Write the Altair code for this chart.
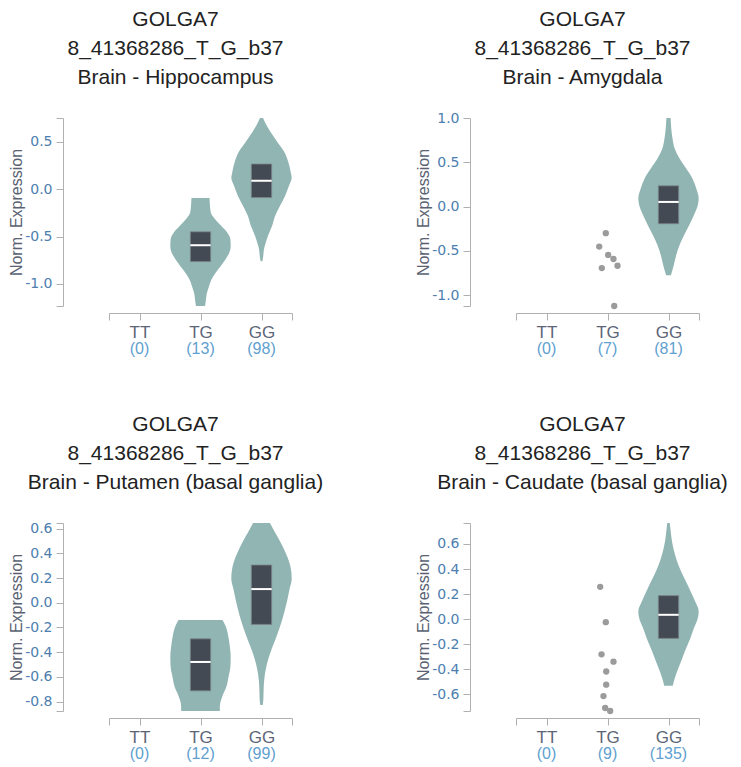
import altair as alt
import pandas as pd

FONT = "Liberation Sans"
TICK_FONT = "DejaVu Sans"
GENOTYPES = ["TT", "TG", "GG"]
GENE = "GOLGA7"
VARIANT = "8_41368286_T_G_b37"

# ---------------- Brain - Hippocampus ----------------
hip_tissue = "Brain - Hippocampus"
hip_counts = [0, 13, 98]
hip_tg_y = [-0.092, -0.160, -0.245, -0.319, -0.390, -0.461, -0.532, -0.603, -0.674,
            -0.745, -0.816, -0.887, -0.958, -1.028, -1.100, -1.170, -1.234]
hip_tg_w = [0.30, 0.31, 0.34, 0.49, 0.69, 0.89, 0.99, 1.00, 0.95,
            0.82, 0.66, 0.49, 0.36, 0.28, 0.21, 0.18, 0.15]
hip_gg_y = [0.752, 0.674, 0.603, 0.496, 0.390, 0.284, 0.177, 0.120, 0.035, -0.071,
            -0.177, -0.284, -0.390, -0.496, -0.567, -0.638, -0.700, -0.762]
hip_gg_w = [0.05, 0.17, 0.30, 0.53, 0.76, 0.89, 0.97, 1.00, 0.91, 0.78,
            0.61, 0.45, 0.35, 0.21, 0.14, 0.08, 0.06, 0.03]
hip_box_geno = ["TG", "GG"]
hip_box_q1 = [-0.765, -0.089]
hip_box_med = [-0.592, 0.089]
hip_box_q3 = [-0.450, 0.266]

# ---------------- Brain - Amygdala ----------------
amy_tissue = "Brain - Amygdala"
amy_counts = [0, 7, 81]
amy_gg_y = [1.000, 0.886, 0.773, 0.659, 0.545, 0.432, 0.318, 0.205, 0.091, 0.015,
            -0.098, -0.212, -0.326, -0.439, -0.553, -0.667, -0.773]
amy_gg_w = [0.07, 0.09, 0.13, 0.20, 0.36, 0.58, 0.79, 0.92, 1.00, 0.97,
            0.84, 0.68, 0.51, 0.36, 0.25, 0.17, 0.08]
amy_box_geno = ["GG"]
amy_box_q1 = [-0.193]
amy_box_med = [0.053]
amy_box_q3 = [0.235]
amy_tg_pts = [-0.299, -0.451, -0.545, -0.591, -0.667, -0.693, -1.121]
amy_tg_jit = [-0.028, -0.136, 0.011, 0.098, 0.164, -0.093, 0.110]

# ---------------- Brain - Putamen (basal ganglia) ----------------
put_tissue = "Brain - Putamen (basal ganglia)"
put_counts = [0, 12, 99]
put_tg_y = [-0.139, -0.188, -0.270, -0.351, -0.433, -0.515, -0.596, -0.678,
            -0.759, -0.841, -0.876]
put_tg_w = [0.73, 0.83, 0.92, 0.97, 1.00, 0.99, 0.93, 0.86, 0.72, 0.64, 0.64]
put_gg_y = [0.646, 0.573, 0.491, 0.410, 0.328, 0.247, 0.192, 0.111, 0.029, -0.052,
            -0.134, -0.216, -0.297, -0.379, -0.460, -0.541, -0.623, -0.705, -0.786, -0.827]
put_gg_w = [0.28, 0.44, 0.63, 0.79, 0.92, 0.99, 1.00, 0.93, 0.86, 0.78,
            0.69, 0.58, 0.46, 0.33, 0.22, 0.14, 0.09, 0.07, 0.06, 0.04]
put_box_geno = ["TG", "GG"]
put_box_q1 = [-0.713, -0.175]
put_box_med = [-0.479, 0.111]
put_box_q3 = [-0.292, 0.306]

# ---------------- Brain - Caudate (basal ganglia) ----------------
cau_tissue = "Brain - Caudate (basal ganglia)"
cau_counts = [0, 9, 135]
cau_gg_y = [0.767, 0.708, 0.627, 0.546, 0.465, 0.385, 0.304, 0.223, 0.143, 0.062,
            0.008, -0.073, -0.153, -0.234, -0.315, -0.396, -0.476, -0.530]
cau_gg_w = [0.04, 0.07, 0.11, 0.18, 0.28, 0.41, 0.57, 0.73, 0.88, 1.00,
            0.97, 0.84, 0.72, 0.58, 0.45, 0.32, 0.20, 0.14]
cau_box_geno = ["GG"]
cau_box_q1 = [-0.153]
cau_box_med = [0.035]
cau_box_q3 = [0.188]
cau_tg_pts = [0.258, -0.024, -0.280, -0.339, -0.417, -0.522, -0.613, -0.708, -0.732]
cau_tg_jit = [-0.120, -0.028, -0.098, 0.098, -0.021, -0.021, -0.066, -0.038, 0.044]

hip_ticks = [-1.0, -0.5, 0.0, 0.5]
amy_ticks = [-1.0, -0.5, 0.0, 0.5, 1.0]
put_ticks = [-0.8, -0.6, -0.4, -0.2, 0.0, 0.2, 0.4, 0.6]
cau_ticks = [-0.6, -0.4, -0.2, 0.0, 0.2, 0.4, 0.6]

VIOLIN_FILL = "#91b5b3"
BOX_FILL = "#434a53"
BOX_STROKE = "#7c878c"
POINT_COLOR = "#9b9b9b"
AXIS_COLOR = "#b0b0b0"
VIOLIN_HALF = 0.495
BOX_HALF = 0.167
W, H = 183, 188

POS = {g: i for i, g in enumerate(GENOTYPES)}
X_LABEL_EXPR = " : ".join(
    f"datum.value == {i} ? '{g}'" for i, g in enumerate(GENOTYPES)) + " : ''"
Y_LABEL_EXPR = ("abs(datum.value * 10 - round(datum.value * 10)) < 0.01 ? "
                "(datum.value < 0 ? '-' : '') + format(abs(datum.value), '.1f') : ''")


def panel(tissue, counts, violins, box_geno, box_q1, box_med, box_q3, ticks,
          pts=None, jit=None):
    vrows = []
    for g, ys, ws in violins:
        for y, w in zip(ys, ws):
            vrows.append({"geno": g, "pos": POS[g], "value": y, "w": w})
    vdf = pd.DataFrame(vrows)
    vdf["lo"] = vdf["pos"] - vdf["w"] * VIOLIN_HALF
    vdf["hi"] = vdf["pos"] + vdf["w"] * VIOLIN_HALF

    bdf = pd.DataFrame({"geno": box_geno, "q1": box_q1, "med": box_med, "q3": box_q3})
    bdf["pos"] = [POS[g] for g in box_geno]
    bdf["lo"] = bdf["pos"] - BOX_HALF
    bdf["hi"] = bdf["pos"] + BOX_HALF

    all_vals = list(vdf["value"])
    if pts:
        all_vals += list(pts)
    lo, hi = min(all_vals), max(all_vals)
    yvals = sorted(set([lo, hi] + ticks))

    yscale = alt.Scale(domain=[lo, hi], nice=False, zero=False)
    xscale = alt.Scale(domain=[-0.5, len(GENOTYPES) - 0.5], nice=False, zero=False)

    x_axis = alt.Axis(values=[-0.5] + list(range(len(GENOTYPES))) + [len(GENOTYPES) - 0.5],
                      labelExpr=X_LABEL_EXPR, title=None, offset=7, tickSize=7,
                      labelPadding=4, labelFontSize=17, labelFont=FONT,
                      labelColor="#5c6577", domainColor=AXIS_COLOR, tickColor=AXIS_COLOR,
                      grid=False, labelFlush=False, labelOverlap=False)
    y_axis = alt.Axis(values=yvals, labelExpr=Y_LABEL_EXPR, title="Norm. Expression",
                      offset=46, tickSize=7, labelPadding=4, labelFontSize=14,
                      labelFont=TICK_FONT, labelColor="#4d7eb0", titleFont=FONT,
                      titleFontSize=16, titleFontWeight="normal", titleColor="#5a6272",
                      titlePadding=0, domainColor=AXIS_COLOR, tickColor=AXIS_COLOR,
                      grid=False, labelFlush=False, labelOverlap=False)

    def X(field):
        return alt.X(field, scale=xscale, axis=x_axis)

    def Y(field):
        return alt.Y(field, scale=yscale, axis=y_axis)

    violin = alt.Chart(vdf).mark_area(orient="horizontal", interpolate="monotone",
                                      color=VIOLIN_FILL, opacity=1).encode(
        y=Y("value:Q"),
        x=X("lo:Q"),
        x2="hi:Q",
        detail="geno:N",
    )
    box = alt.Chart(bdf).mark_rect(color=BOX_FILL, stroke=BOX_STROKE, strokeWidth=0.8).encode(
        y=Y("q1:Q"),
        y2="q3:Q",
        x=X("lo:Q"),
        x2="hi:Q",
    )
    med = alt.Chart(bdf).mark_rule(color="white", strokeWidth=2).encode(
        y=Y("med:Q"),
        x=X("lo:Q"),
        x2="hi:Q",
    )
    cdf = pd.DataFrame({"geno": GENOTYPES, "pos": [POS[g] for g in GENOTYPES],
                        "label": [f"({c})" for c in counts]})
    cnt = alt.Chart(cdf).mark_text(font=FONT, fontSize=16, color="#5f9fd0",
                                   baseline="alphabetic", align="center").encode(
        x=X("pos:Q"),
        y=alt.value(H + 48),
        text="label:N",
    )
    layers = [violin, box, med]
    if pts:
        pdf = pd.DataFrame({"value": pts, "j": jit})
        pdf["x"] = POS["TG"] + pdf["j"]
        layers.append(alt.Chart(pdf).mark_circle(color=POINT_COLOR, size=40, opacity=1).encode(
            y=Y("value:Q"),
            x=X("x:Q"),
        ))
    layers.append(cnt)
    return alt.layer(*layers).properties(
        width=W, height=H,
        title=alt.TitleParams(text=[GENE, VARIANT, tissue], font=FONT, fontSize=21,
                              fontWeight="normal", color="#222222", lineHeight=29,
                              anchor="middle", frame="group", dx=-25, offset=23),
    )


p1 = panel(hip_tissue, hip_counts, [("TG", hip_tg_y, hip_tg_w), ("GG", hip_gg_y, hip_gg_w)],
           hip_box_geno, hip_box_q1, hip_box_med, hip_box_q3, hip_ticks)
p2 = panel(amy_tissue, amy_counts, [("GG", amy_gg_y, amy_gg_w)],
           amy_box_geno, amy_box_q1, amy_box_med, amy_box_q3, amy_ticks,
           pts=amy_tg_pts, jit=amy_tg_jit)
p3 = panel(put_tissue, put_counts, [("TG", put_tg_y, put_tg_w), ("GG", put_gg_y, put_gg_w)],
           put_box_geno, put_box_q1, put_box_med, put_box_q3, put_ticks)
p4 = panel(cau_tissue, cau_counts, [("GG", cau_gg_y, cau_gg_w)],
           cau_box_geno, cau_box_q1, cau_box_med, cau_box_q3, cau_ticks,
           pts=cau_tg_pts, jit=cau_tg_jit)

chart = alt.concat(p1, p2, p3, p4, columns=2, spacing={"row": 217, "column": 224},
                   bounds="flush").properties(
    padding={"left": 0, "top": 1, "right": 0, "bottom": 0}
).configure_view(strokeWidth=0)

chart.save("out.html", embed_options={"renderer": "svg", "actions": False})
